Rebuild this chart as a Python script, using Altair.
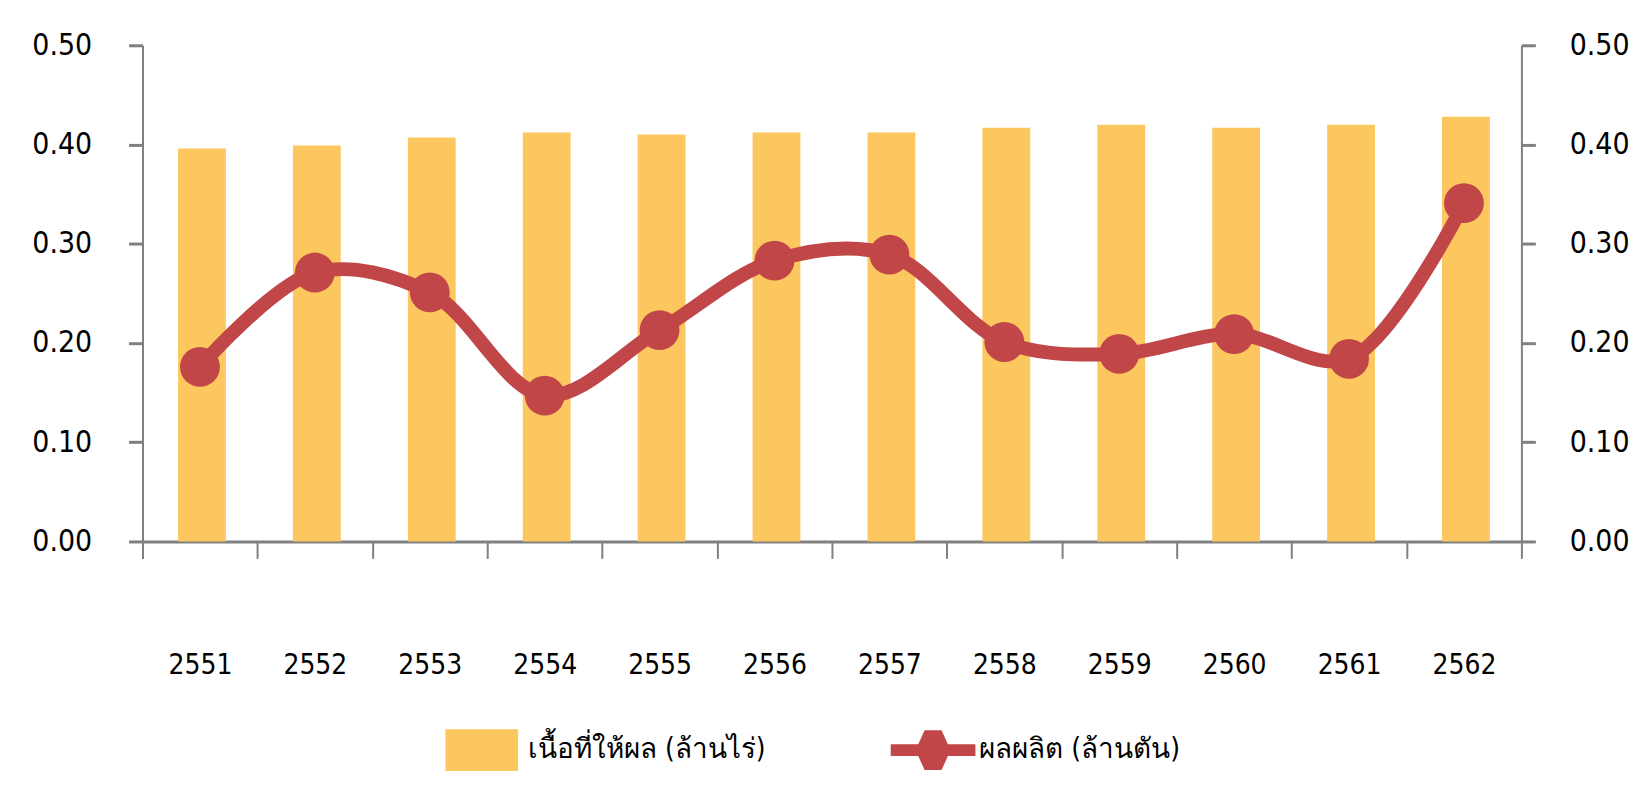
import altair as alt
import pandas as pd

years = ["2551", "2552", "2553", "2554", "2555", "2556", "2557", "2558", "2559", "2560", "2561", "2562"]
area = [0.396, 0.399, 0.407, 0.412, 0.410, 0.412, 0.412, 0.417, 0.420, 0.417, 0.420, 0.428]
production = [0.176, 0.271, 0.251, 0.147, 0.213, 0.283, 0.289, 0.201, 0.189, 0.209, 0.184, 0.341]
area_label = "เนื้อที่ให้ผล (ล้านไร่)"
prod_label = "ผลผลิต (ล้านตัน)"

df = pd.DataFrame({
    "year": years,
    "area": area,
    "production": production,
    "s1": [area_label] * len(years),
    "s2": [prod_label] * len(years),
})

BAR = "#FCC75E"
LINE = "#C04648"
FONT = "DejaVu Sans Condensed, Liberation Sans Narrow, Liberation Sans, sans-serif"
GRAY = "#808080"

x_enc = alt.X(
    "year:N",
    sort=years,
    title=None,
    scale=alt.Scale(paddingInner=0, paddingOuter=0),
    axis=alt.Axis(
        tickBand="extent",
        tickSize=17,
        tickColor=GRAY,
        tickWidth=2,
        domainColor=GRAY,
        domainWidth=3,
        labelAngle=0,
        labelFont=FONT,
        labelFontSize=28,
        labelColor="#000000",
        labelPadding=94,
    ),
)

ydomain = [0, 0.5]
ticks = [0, 0.1, 0.2, 0.3, 0.4, 0.5]

bars = alt.Chart(df).mark_bar(width=48, xOffset=2).encode(
    x=x_enc,
    y=alt.Y(
        "area:Q",
        title=None,
        scale=alt.Scale(domain=ydomain, nice=False),
        axis=alt.Axis(
            orient="left", values=ticks, format=".2f", grid=False,
            domainColor=GRAY, domainWidth=2, tickColor=GRAY, tickWidth=3, tickSize=14,
            labelFont=FONT, labelFontSize=30, labelColor="#000000", labelPadding=37,
        ),
    ),
    color=alt.Color(
        "s1:N", title=None,
        scale=alt.Scale(domain=[area_label], range=[BAR]),
        legend=alt.Legend(
            orient="none", legendX=304, legendY=671, padding=0,
            symbolType="M-1,-0.575H1V0.575H-1Z", symbolSize=5329,
            symbolStrokeWidth=0, labelFont=FONT, labelFontSize=28,
            labelColor="#000000", labelOffset=10, labelLimit=400,
        ),
    ),
)

base = alt.Chart(df).encode(
    x=x_enc,
    y=alt.Y(
        "production:Q",
        title=None,
        scale=alt.Scale(domain=ydomain, nice=False),
        axis=alt.Axis(
            orient="right", values=ticks, format=".2f", grid=False,
            domainColor=GRAY, domainWidth=2, tickColor=GRAY, tickWidth=3, tickSize=14,
            labelFont=FONT, labelFontSize=30, labelColor="#000000", labelPadding=34,
        ),
    ),
)

line = base.mark_line(color=LINE, strokeWidth=14, interpolate="catmull-rom")
points = base.mark_point(filled=True, opacity=1, size=1600).encode(
    color=alt.Color(
        "s2:N", title=None,
        scale=alt.Scale(domain=[prod_label], range=[LINE]),
        legend=alt.Legend(
            orient="none", legendX=751, legendY=665, padding=0,
            symbolType="M-1,-0.14H-0.35L-0.2,-0.47H0.2L0.35,-0.14H1V0.14H0.35L0.2,0.47H-0.2L-0.35,0.14H-1Z",
            symbolSize=7225, symbolStrokeWidth=0, symbolOpacity=1,
            labelFont=FONT, labelFontSize=28, labelColor="#000000", labelOffset=4, labelLimit=400,
        ),
    )
)

chart = alt.layer(bars, alt.layer(line, points)).resolve_scale(
    y="independent", color="independent"
).properties(
    width=1384,
    height=498,
    autosize=alt.AutoSizeParams(type="none"),
    padding={"left": 135, "top": 36, "right": 110, "bottom": 240},
    background="#FFFFFF",
).configure_view(stroke=None)

chart.save("out.html", embed_options={"renderer": "svg", "actions": False})
